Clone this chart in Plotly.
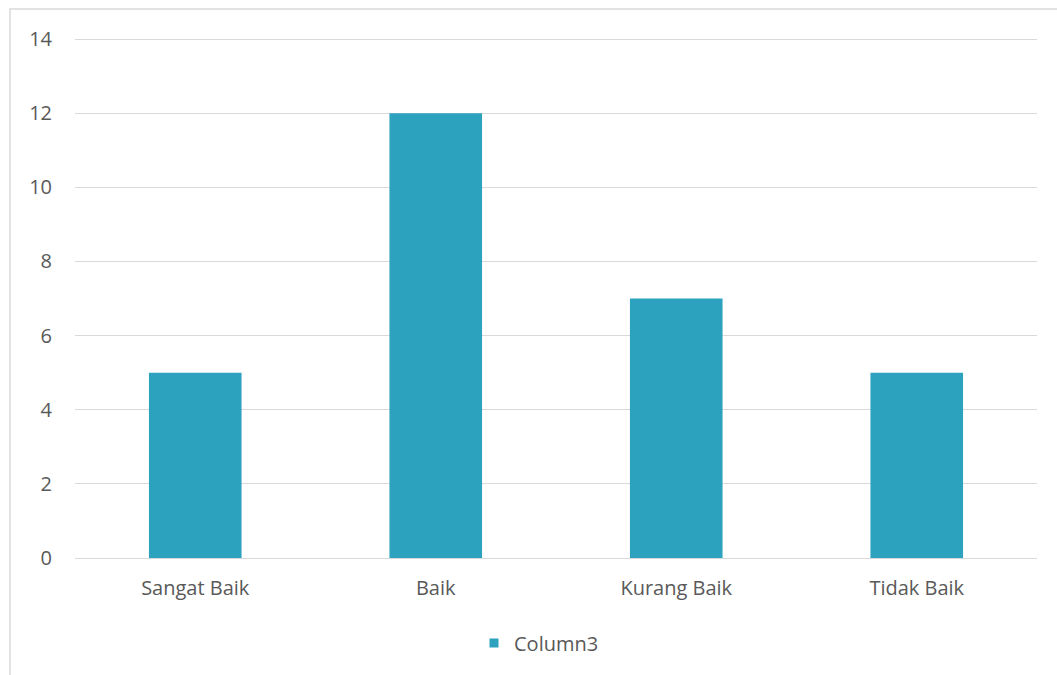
import plotly.graph_objects as go

categories = ["Sangat Baik", "Baik", "Kurang Baik", "Tidak Baik"]
values = [5, 12, 7, 5]
y_ticks = [0, 2, 4, 6, 8, 10, 12, 14]
series_name = "Column3"

W, H = 1057, 675
L, R, T, B = 75, 20, 38, 117
pw, ph = W - L - R, H - T - B
BAR_COLOR = "#2CA2BF"
TEXT = "#595959"
GRID = "#D9D9D9"

def px_to_paper_x(px):
    return (px - L) / pw

def px_to_paper_y(py):
    return (H - B - py) / ph

fig = go.Figure()
fig.add_trace(go.Bar(
    x=categories, y=values, name=series_name,
    marker=dict(color=BAR_COLOR, line=dict(width=0)),
    width=0.385, showlegend=False,
))
# legend entry with a small square swatch
fig.add_trace(go.Scatter(
    x=[None], y=[None], mode="markers", name=series_name,
    marker=dict(symbol="square", size=9, color=BAR_COLOR), showlegend=True,
))

fig.update_layout(
    width=W, height=H,
    margin=dict(l=L, r=R, t=T, b=B, pad=0),
    paper_bgcolor="white", plot_bgcolor="white",
    font=dict(family="Open Sans, Noto Sans, sans-serif", size=20, color=TEXT),
    xaxis=dict(showgrid=False, showline=False, ticks="", ticklabelstandoff=16,
               tickfont=dict(size=20, color=TEXT)),
    yaxis=dict(range=[0, 14.03], tickvals=y_ticks, showgrid=True, gridcolor=GRID, gridwidth=1.3,
               zeroline=True, zerolinecolor=GRID, zerolinewidth=1.3, showline=False,
               ticks="", ticklabelstandoff=22, tickfont=dict(size=20, color=TEXT)),
    showlegend=True,
    legend=dict(orientation="h", x=px_to_paper_x(539), xanchor="center", y=px_to_paper_y(643),
                yanchor="middle", font=dict(size=20, color=TEXT), itemwidth=30),
    shapes=[dict(type="rect", xref="paper", yref="paper",
                 x0=px_to_paper_x(10), x1=px_to_paper_x(1070),
                 y0=px_to_paper_y(690), y1=px_to_paper_y(9),
                 line=dict(color=GRID, width=1.5), fillcolor="rgba(0,0,0,0)", layer="below")],
)

fig.write_html("out.html")
